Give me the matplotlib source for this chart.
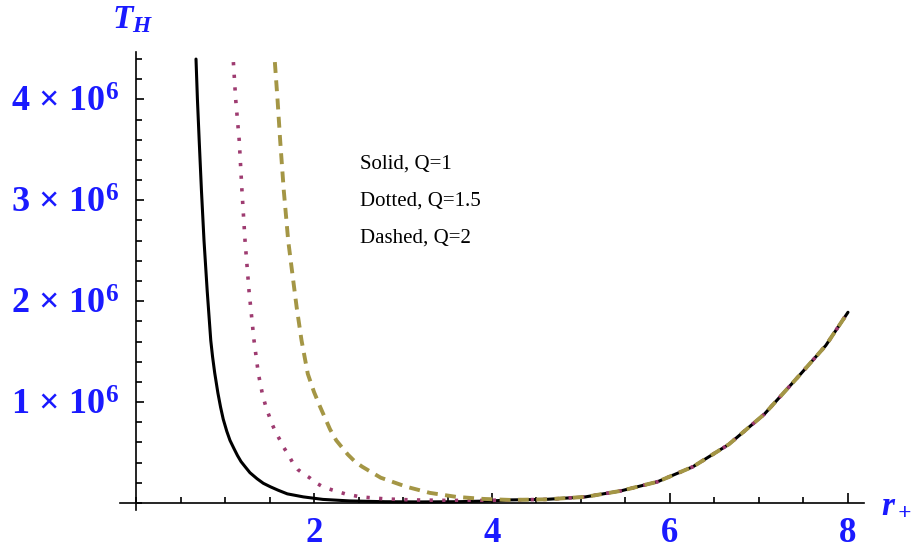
import matplotlib
matplotlib.use("Agg")
import matplotlib.pyplot as plt
from matplotlib.ticker import FixedLocator, FixedFormatter, MultipleLocator
import numpy as np

plt.rcParams['font.family'] = ['Liberation Serif', 'DejaVu Serif']
plt.rcParams['mathtext.fontset'] = 'custom'
plt.rcParams['mathtext.rm'] = 'Liberation Serif'
plt.rcParams['mathtext.bf'] = 'Liberation Serif:bold'
plt.rcParams['mathtext.it'] = 'Liberation Serif:italic'
plt.rcParams['mathtext.bfit'] = 'Liberation Serif:italic:bold'

# values, T_H in units of 1e6
r_solid = [0.674, 0.69, 0.71, 0.735, 0.764, 0.80, 0.84, 0.86, 0.884, 0.92, 0.95, 0.98,
           1.02, 1.056, 1.1, 1.14, 1.18, 1.225, 1.28, 1.36, 1.43, 1.51, 1.6, 1.7, 1.88,
           2.1, 2.4, 2.8, 3.2, 3.6, 4.0]
T_solid = [4.40, 4.0, 3.59, 3.1, 2.60, 2.1, 1.61, 1.45, 1.29, 1.09, 0.95, 0.83,
           0.71, 0.62, 0.54, 0.47, 0.41, 0.36, 0.30, 0.24, 0.195, 0.16, 0.125, 0.09, 0.06,
           0.035, 0.02, 0.012, 0.01, 0.012, 0.02]

r_dotted = [1.094, 1.12, 1.16, 1.19, 1.225, 1.27, 1.326, 1.375, 1.42, 1.46, 1.53, 1.57,
            1.62, 1.66, 1.71, 1.76, 1.82, 1.88, 1.95, 2.0, 2.10, 2.2, 2.35, 2.52, 2.8,
            3.1, 3.5, 3.9]
T_dotted = [4.37, 4.0, 3.59, 3.1, 2.60, 2.1, 1.61, 1.28, 1.08, 0.95, 0.78, 0.70,
            0.62, 0.55, 0.48, 0.40, 0.33, 0.29, 0.25, 0.21, 0.16, 0.13, 0.09, 0.06, 0.04,
            0.03, 0.025, 0.025]

r_dashed = [1.56, 1.59, 1.62, 1.66, 1.71, 1.76, 1.805, 1.86, 1.93, 2.0, 2.07, 2.12,
            2.18, 2.25, 2.38, 2.46, 2.54, 2.75, 3.04, 3.3, 3.6, 3.9]
T_dashed = [4.37, 4.0, 3.59, 3.1, 2.60, 2.25, 1.94, 1.61, 1.28, 1.10, 0.95, 0.85,
            0.73, 0.62, 0.48, 0.41, 0.36, 0.25, 0.16, 0.10, 0.06, 0.04]

# common right branch where all three curves coincide
r_tail = [4.2, 4.6, 5.05, 5.45, 5.86, 6.26, 6.66, 7.06, 7.46, 7.75, 8.0]
T_tail = [0.03, 0.035, 0.06, 0.12, 0.21, 0.36, 0.58, 0.88, 1.27, 1.56, 1.89]

y_ticks = [1, 2, 3, 4]
y_labels = [r'$\mathbf{%d\,\times\,10^{6}}$' % v for v in y_ticks]
x_ticks = [2, 4, 6, 8]
x_labels = ['2', '4', '6', '8']

legend_lines = ['Solid, Q=1', 'Dotted, Q=1.5', 'Dashed, Q=2']

blue = '#1a1aff'
fig = plt.figure(figsize=(9.19, 5.48), dpi=100)
ax = fig.add_axes([120 / 919, 38 / 548, 744 / 919, 458 / 548])

def full(r, T):
    return np.array(r + r_tail), np.array(T + T_tail) * 1e6

x, y = full(r_solid, T_solid)
ax.plot(x, y, color='black', lw=2.2, solid_capstyle='round', solid_joinstyle='round')
x, y = full(r_dotted, T_dotted)
ax.plot(x, y, color='#9e3b70', lw=2.6, linestyle=(0, (0.9, 2.6)), dash_capstyle='butt')
x, y = full(r_dashed, T_dashed)
ax.plot(x, y, color='#a49645', lw=2.8, linestyle=(0, (2.8, 1.9)), dash_capstyle='butt')

ax.set_xlim(-0.18, 8.18)
ax.set_ylim(-0.07e6, 4.47e6)

for s in ['top', 'right']:
    ax.spines[s].set_visible(False)
ax.spines['left'].set_position(('data', 0))
ax.spines['bottom'].set_position(('data', 0))
ax.spines['left'].set_linewidth(1.2)
ax.spines['bottom'].set_linewidth(1.2)

ax.xaxis.set_major_locator(FixedLocator(x_ticks))
ax.xaxis.set_major_formatter(FixedFormatter(x_labels))
ax.xaxis.set_minor_locator(MultipleLocator(0.5))
ax.yaxis.set_major_locator(FixedLocator([v * 1e6 for v in y_ticks]))
ax.yaxis.set_major_formatter(FixedFormatter(y_labels))
ax.yaxis.set_minor_locator(MultipleLocator(0.2e6))

ax.tick_params(axis='both', which='both', direction='in', width=1.2, colors='black')
ax.tick_params(axis='x', which='major', length=7, pad=10, labelsize=25, labelcolor=blue)
ax.tick_params(axis='x', which='minor', length=4)
ax.tick_params(axis='y', which='major', length=6, pad=12, labelsize=26, labelcolor=blue)
ax.tick_params(axis='y', which='minor', length=4)
for lab in ax.get_xticklabels():
    lab.set_fontweight('bold')

fig.text(133 / 919, 1 - 20 / 548, r'$\mathbfit{T_H}$', color=blue, fontsize=24,
         ha='center', va='center')
fig.text(896 / 919, 1 - 505 / 548, r'$\mathbfit{r_+}$', color=blue, fontsize=24,
         ha='center', va='center')

for i, t in enumerate(legend_lines):
    fig.text(360 / 919, 1 - (164 + 37 * i) / 548, t, fontsize=15, color='black',
             ha='left', va='center')

fig.savefig('out.png', dpi=100)
